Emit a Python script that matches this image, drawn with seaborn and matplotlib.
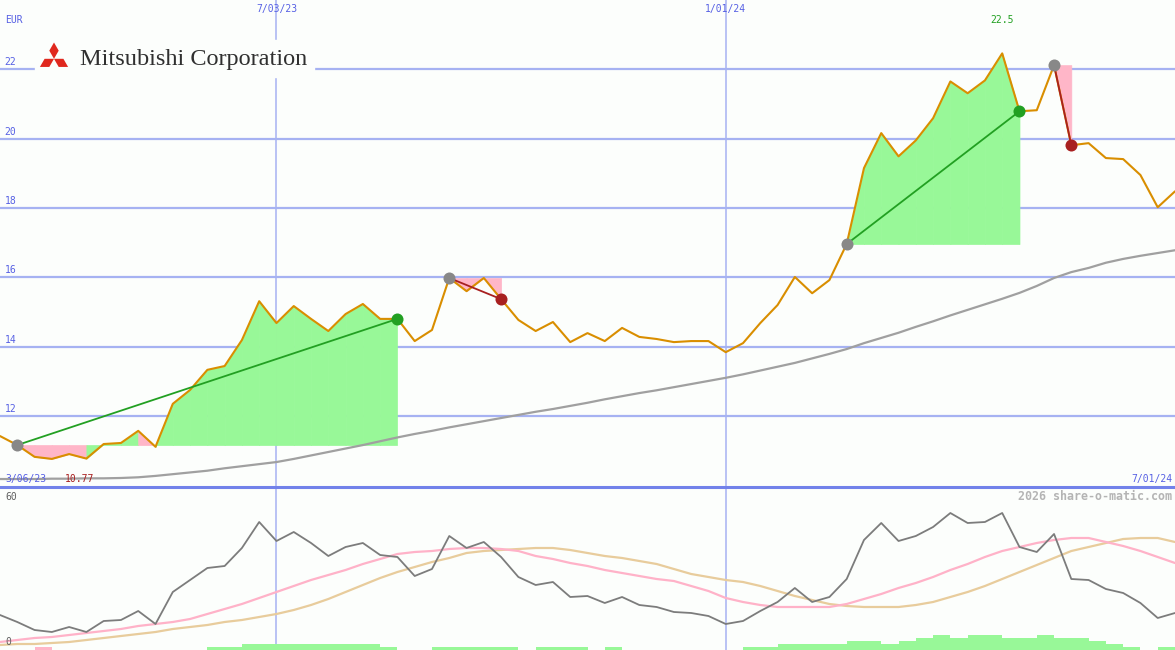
import numpy as np
import pandas as pd
import seaborn as sns
import matplotlib.pyplot as plt
from matplotlib.patches import Rectangle, Polygon

# weekly closes, Mitsubishi Corp (EUR)
dates = pd.date_range("2023-03-13", periods=69, freq="7D")
price = [11.42, 11.16, 10.82, 10.76, 10.90, 10.77, 11.19, 11.22, 11.57, 11.11,
         12.35, 12.75, 13.33, 13.44, 14.19, 15.31, 14.68, 15.17, 14.80, 14.45,
         14.94, 15.23, 14.80, 14.80, 14.16, 14.48, 15.98, 15.60, 15.98, 15.37,
         14.77, 14.45, 14.71, 14.13, 14.39, 14.16, 14.54, 14.28, 14.22, 14.13,
         14.16, 14.16, 13.84, 14.10, 14.68, 15.20, 16.01, 15.54, 15.92, 16.96,
         19.15, 20.16, 19.49, 19.95, 20.59, 21.65, 21.31, 21.68, 22.46, 20.79,
         20.82, 22.12, 19.81, 19.87, 19.44, 19.41, 18.95, 18.02, 18.48]
mov_avg = [10.18, 10.18, 10.18, 10.19, 10.19, 10.20, 10.20, 10.21, 10.23, 10.27,
           10.32, 10.37, 10.42, 10.49, 10.55, 10.61, 10.67, 10.76, 10.86, 10.96,
           11.06, 11.16, 11.27, 11.38, 11.48, 11.57, 11.67, 11.76, 11.85, 11.94,
           12.03, 12.12, 12.20, 12.29, 12.38, 12.48, 12.57, 12.66, 12.74, 12.83,
           12.92, 13.01, 13.10, 13.20, 13.31, 13.42, 13.53, 13.66, 13.79, 13.93,
           14.10, 14.25, 14.40, 14.57, 14.73, 14.90, 15.06, 15.22, 15.38, 15.55,
           15.75, 15.98, 16.15, 16.27, 16.42, 16.53, 16.62, 16.70, 16.78]

# trades: buy index, sell index
buy_idx = [1, 26, 49, 61]
sell_idx = [23, 29, 59, 62]

# lower panel
osc = [14.0, 11.2, 8.0, 7.2, 9.2, 7.2, 11.6, 12.0, 15.6, 10.4,
       23.2, 28.0, 32.8, 33.6, 40.8, 51.2, 43.6, 47.2, 42.8, 37.6,
       41.2, 42.8, 38.0, 37.2, 29.6, 32.4, 45.6, 40.8, 43.2, 37.2,
       29.2, 26.0, 27.2, 21.2, 21.6, 18.8, 21.2, 18.0, 17.2, 15.2,
       14.8, 13.6, 10.4, 11.6, 15.6, 19.2, 24.8, 19.2, 21.2, 28.4,
       44.0, 50.8, 43.6, 45.6, 49.2, 54.8, 50.8, 51.2, 54.8, 41.2,
       39.2, 46.4, 28.4, 28.0, 24.4, 22.8, 18.8, 12.8, 14.8]
osc_fast = [3.2, 4.0, 4.8, 5.2, 6.0, 6.8, 7.6, 8.4, 9.6, 10.4,
            11.2, 12.4, 14.4, 16.4, 18.4, 20.8, 23.2, 25.6, 28.0, 30.0,
            32.0, 34.4, 36.4, 38.4, 39.2, 39.6, 40.4, 40.8, 40.8, 40.4,
            39.6, 37.6, 36.4, 34.8, 33.6, 32.0, 30.8, 29.6, 28.4, 27.6,
            25.6, 23.6, 20.8, 19.2, 18.0, 17.2, 17.2, 17.2, 17.2, 18.4,
            20.4, 22.4, 24.8, 26.8, 29.2, 32.0, 34.4, 37.2, 39.6, 41.2,
            42.8, 44.0, 44.8, 44.8, 43.2, 41.6, 39.6, 37.2, 34.8]
osc_slow = [2.0, 2.4, 2.4, 2.8, 3.2, 4.0, 4.8, 5.6, 6.4, 7.2,
            8.4, 9.2, 10.0, 11.2, 12.0, 13.2, 14.4, 16.0, 18.0, 20.4,
            23.2, 26.0, 28.8, 31.2, 33.2, 35.2, 36.8, 38.8, 39.6, 40.0,
            40.4, 40.8, 40.8, 40.0, 38.8, 37.6, 36.8, 35.6, 34.4, 32.4,
            30.4, 29.2, 28.0, 27.2, 25.6, 23.6, 21.6, 20.0, 18.4, 17.6,
            17.2, 17.2, 17.2, 18.0, 19.2, 21.2, 23.2, 25.6, 28.4, 31.2,
            34.0, 36.8, 39.6, 41.2, 42.8, 44.4, 44.8, 44.8, 43.2]
signal = [0, 0, -1.2, 0, 0, 0, 0, 0, 0, 0,
          0, 0, 1.2, 1.2, 2.4, 2.4, 2.4, 2.4, 2.4, 2.4,
          2.4, 2.4, 1.2, 0, 0, 1.2, 1.2, 1.2, 1.2, 1.2,
          0, 1.2, 1.2, 1.2, 0, 1.2, 0, 0, 0, 0,
          0, 0, 0, 1.2, 1.2, 2.4, 2.4, 2.4, 2.4, 3.6,
          3.6, 2.4, 3.6, 4.8, 6.0, 4.8, 6.0, 6.0, 4.8, 4.8,
          6.0, 4.8, 4.8, 3.6, 2.4, 1.2, 0, 1.2]

y_ticks = [12, 14, 16, 18, 20, 22]
v_dates = [pd.Timestamp("2023-07-03"), pd.Timestamp("2024-01-01")]
v_labels = ["7/03/23", "1/01/24"]

W, H = 1175, 650
BG = "#fcfefc"
GRID = "#a6b2f2"
BLUE = "#5660e4"
GREEN = "#98f898"
PINK = "#ffb6c8"

sns.set_style("white", {"axes.facecolor": BG, "figure.facecolor": BG})
plt.rcParams["font.family"] = ["DejaVu Sans Mono"]

fig = plt.figure(figsize=(W / 100, H / 100), dpi=100)
split = 163 / H
ax = fig.add_axes([0, split, 1, 1 - split])
ax2 = fig.add_axes([0, 0, 1, split])

for a in (ax, ax2):
    a.set_xlim(dates[0], dates[-1])
    for s in a.spines.values():
        s.set_visible(False)
    a.set_xticks([])
    a.set_yticks([])
    for d in v_dates:
        a.axvline(d, color=GRID, lw=1.1, zorder=1)

ax.set_ylim(9.95, 24.0)
for t in y_ticks:
    ax.axhline(t, color=GRID, lw=1.6, zorder=1)
    ax.annotate(str(t), xy=(0.004, t), xycoords=("axes fraction", "data"),
                xytext=(0, 1.5), textcoords="offset points", va="bottom",
                ha="left", color=BLUE, fontsize=7)

# trade fills, coloured per week against the entry price
price_a = np.array(price)
for b, s in zip(buy_idx, sell_idx):
    for i in range(b, s):
        col = GREEN if price_a[i + 1] > price_a[b] else PINK
        ax.fill_between(dates[i:i + 2], price_a[i:i + 2], price_a[b],
                        facecolor=col, edgecolor=col, lw=0.5, zorder=2)

sns.lineplot(x=dates, y=mov_avg, ax=ax, color="#a0a0a0", linewidth=1.6, zorder=3)
sns.lineplot(x=dates, y=price, ax=ax, color="#d98e00", linewidth=1.5, zorder=4)

for b, s in zip(buy_idx, sell_idx):
    lc = "#22a022" if price[s] > price[b] else "#a82020"
    ax.plot([dates[b], dates[s]], [price[b], price[s]], color=lc, lw=1.3, zorder=5)
    ax.scatter([dates[b]], [price[b]], s=75, color="#888888", zorder=6, lw=0)
    ax.scatter([dates[s]], [price[s]], s=75, color=lc, zorder=6, lw=0)

ax.set_xlim(dates[0], dates[-1])
ax.set_xlabel("")
ax.set_ylabel("")

# lower panel
ax2.set_ylim(0, 65.2)
ax2.spines["top"].set_visible(True)
ax2.spines["top"].set_color("#7282ea")
ax2.spines["top"].set_linewidth(2.2)
sig = np.array(signal)
ax2.bar(dates[:-1], np.abs(sig), width=pd.Timedelta(days=7), align="edge",
        color=[GREEN if v > 0 else PINK for v in sig], lw=0, zorder=2)
sns.lineplot(x=dates, y=osc_slow, ax=ax2, color="#e8cc9c", linewidth=1.6, zorder=3)
sns.lineplot(x=dates, y=osc_fast, ax=ax2, color="#ffb2c8", linewidth=1.6, zorder=3)
sns.lineplot(x=dates, y=osc, ax=ax2, color="#7c7c7c", linewidth=1.3, zorder=4)
ax2.set_xlim(dates[0], dates[-1])
ax2.set_xlabel("")
ax2.set_ylabel("")


def ftext(px, py, s, **kw):
    fig.text(px / W, 1 - py / H, s, va="center", **kw)


ftext(5, 20, "EUR", color=BLUE, fontsize=7)
for d, lab in zip(v_dates, v_labels):
    ax.text(d, 1 - 9 / 487, lab, transform=ax.get_xaxis_transform(),
            ha="center", va="center", color=BLUE, fontsize=7)
ftext(5, 479, "3/06/23", color=BLUE, fontsize=7)
ftext(65, 479, "10.77", color="#a82020", fontsize=7)
ftext(1172, 479, "7/01/24", color=BLUE, fontsize=7, ha="right")
imax = int(np.argmax(price))
ax.text(dates[imax], 1 - 20 / 487, "22.5", transform=ax.get_xaxis_transform(),
        ha="center", va="center", color="#22a022", fontsize=7)
ftext(1172, 496, "2026 share-o-matic.com", color="#b4b4b4", fontsize=8.4,
      ha="right", fontweight="bold")
ftext(5, 497, "60", color="#606060", fontsize=7)
ftext(5, 642, "0", color="#606060", fontsize=7)

# logo
fig.patches.append(Rectangle((35 / W, 1 - 77 / H), 279 / W, 37 / H,
                             transform=fig.transFigure, color=BG, zorder=5))
cx, cy, L = 54, 58.8, 9.4
for ang in (90, 210, 330):
    r = np.deg2rad(ang)
    u = np.array([np.cos(r), np.sin(r)])
    p = np.array([-np.sin(r), np.cos(r)])
    pts = [(0, 0), L * (0.866 * u + 0.5 * p), L * 1.732 * u, L * (0.866 * u - 0.5 * p)]
    pts = [((cx + q[0]) / W, 1 - (cy - q[1]) / H) for q in pts]
    fig.patches.append(Polygon(pts, closed=True, transform=fig.transFigure,
                               color="#e0281e", zorder=6, lw=0))
fig.text(80 / W, 1 - 60 / H, "Mitsubishi Corporation", family="Liberation Serif",
         fontsize=17.5, color="#303030", va="center", ha="left", zorder=7)

fig.savefig("out.png", dpi=100, facecolor=BG)
